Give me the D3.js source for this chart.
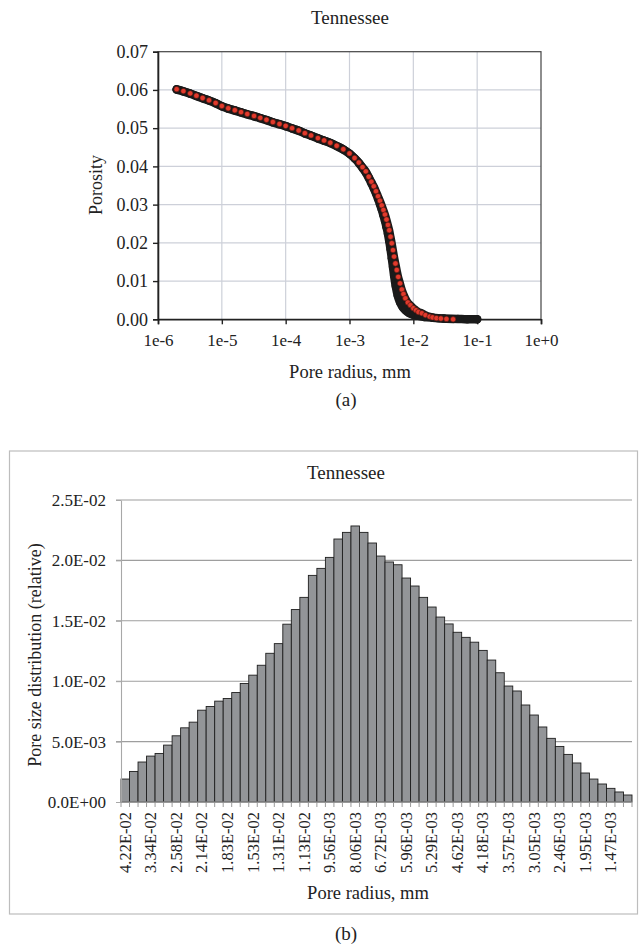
<!DOCTYPE html>
<html>
<head>
<meta charset="utf-8">
<script src="https://cdn.jsdelivr.net/npm/d3@7"></script>
<style>
  html, body { margin: 0; padding: 0; background: #fff; }
  svg { display: block; }
  svg text { font-family: "Times New Roman", "Liberation Serif", "DejaVu Serif", serif !important; fill: #222; }
</style>
</head>
<body>
<svg id="chart" width="639" height="947"></svg>
<script>
// ---------- Data: panel (a) ----------
const chartTitleA = "Tennessee";
const xTickValuesA = [1e-6, 1e-5, 1e-4, 1e-3, 1e-2, 1e-1, 1e0];
const xTickLabelsA = ["1e-6", "1e-5", "1e-4", "1e-3", "1e-2", "1e-1", "1e+0"];
const yTickValuesA = [0, 0.01, 0.02, 0.03, 0.04, 0.05, 0.06, 0.07];

// measured curve (black markers)
const radiusBlack = [1.96e-6, 2.5e-6, 3.2e-6, 4.0e-6, 5.0e-6, 6.3e-6, 8.0e-6, 1.0e-5, 1.26e-5, 1.6e-5,
  2.0e-5, 2.5e-5, 3.2e-5, 4.0e-5, 5.0e-5, 6.3e-5, 8.0e-5, 1.0e-4, 1.26e-4, 1.6e-4,
  2.0e-4, 2.5e-4, 3.2e-4, 4.0e-4, 5.0e-4, 6.3e-4, 8.0e-4, 1.0e-3, 1.2e-3, 1.4e-3,
  1.6e-3, 1.8e-3, 2.0e-3, 2.2e-3, 2.4e-3, 2.6e-3, 2.8e-3, 3.0e-3, 3.2e-3, 3.4e-3,
  3.6e-3, 3.8e-3, 4.0e-3, 4.2e-3, 4.4e-3, 4.6e-3, 4.8e-3, 5.0e-3, 5.3e-3, 5.7e-3,
  6.2e-3, 6.8e-3, 7.5e-3, 8.5e-3, 1.0e-2, 1.2e-2, 1.5e-2, 2.0e-2, 3.0e-2, 5.0e-2,
  7.0e-2, 1.0e-1];
const porosityBlack = [0.0601, 0.0596, 0.0590, 0.0584, 0.0578, 0.0572, 0.0565, 0.0557, 0.0551, 0.0546,
  0.0541, 0.0536, 0.0531, 0.0526, 0.0521, 0.0515, 0.0510, 0.0505, 0.0499, 0.0493,
  0.0486, 0.0480, 0.0473, 0.0467, 0.0461, 0.0453, 0.0444, 0.0433, 0.0421, 0.0409,
  0.0396, 0.0384, 0.0370, 0.0356, 0.0343, 0.0329, 0.0315, 0.0301, 0.0287, 0.0272,
  0.0257, 0.0241, 0.0224, 0.0204, 0.0183, 0.0160, 0.0137, 0.0114, 0.0087, 0.0062,
  0.0044, 0.0032, 0.0024, 0.0017, 0.0012, 0.0009, 0.0006, 0.0004, 0.0002, 0.0001,
  0.0000, 0.0000];

// model curve (red markers)
const radiusRed = [1.96e-6, 2.5e-6, 3.2e-6, 4.0e-6, 5.0e-6, 6.3e-6, 8.0e-6, 1.0e-5, 1.26e-5, 1.6e-5,
  2.0e-5, 2.5e-5, 3.2e-5, 4.0e-5, 5.0e-5, 6.3e-5, 8.0e-5, 1.0e-4, 1.26e-4, 1.6e-4,
  2.0e-4, 2.5e-4, 3.2e-4, 4.0e-4, 5.0e-4, 6.3e-4, 8.0e-4, 1.0e-3, 1.2e-3, 1.4e-3,
  1.6e-3, 1.8e-3, 2.0e-3, 2.2e-3, 2.4e-3, 2.6e-3, 2.8e-3, 3.0e-3, 3.2e-3, 3.4e-3,
  3.6e-3, 3.8e-3, 4.0e-3, 4.2e-3, 4.4e-3, 4.6e-3, 4.8e-3, 5.0e-3, 5.25e-3, 5.5e-3,
  5.8e-3, 6.2e-3, 6.6e-3, 7.0e-3, 7.5e-3, 8.2e-3, 9.0e-3, 1.0e-2, 1.1e-2, 1.2e-2,
  1.36e-2, 1.55e-2, 1.8e-2, 2.0e-2, 2.3e-2, 2.7e-2, 3.3e-2, 4.2e-2];
const porosityRed = [0.0602, 0.0597, 0.0591, 0.0585, 0.0579, 0.0573, 0.0566, 0.0558, 0.0552, 0.0547,
  0.0542, 0.0537, 0.0532, 0.0527, 0.0522, 0.0516, 0.0511, 0.0506, 0.0500, 0.0494,
  0.0487, 0.0481, 0.0474, 0.0468, 0.0462, 0.0454, 0.0445, 0.0434, 0.0422, 0.0410,
  0.0398, 0.0387, 0.0373, 0.0360, 0.0348, 0.0335, 0.0322, 0.0310, 0.0298, 0.0286,
  0.0274, 0.0261, 0.0247, 0.0233, 0.0216, 0.0199, 0.0181, 0.0164, 0.0146, 0.0129,
  0.0111, 0.0094, 0.0078, 0.0066, 0.0055, 0.0044, 0.0037, 0.0029, 0.0024, 0.0019,
  0.0016, 0.0011, 0.0007, 0.0005, 0.0003, 0.0002, 0.0001, 0.0000];

// ---------- Data: panel (b) ----------
const chartTitleB = "Tennessee";
const psdValues = [0.00190, 0.00253, 0.00331, 0.00380, 0.00402, 0.00471, 0.00548, 0.00614, 0.00661, 0.00760,
  0.00791, 0.00835, 0.00857, 0.00906, 0.00981, 0.01050, 0.01132, 0.01231, 0.01311, 0.01472,
  0.01593, 0.01694, 0.01876, 0.01934, 0.02025, 0.02177, 0.02232, 0.02285, 0.02232, 0.02144,
  0.02036, 0.01987, 0.01964, 0.01854, 0.01788, 0.01694, 0.01614, 0.01531, 0.01474, 0.01405,
  0.01363, 0.01323, 0.01255, 0.01175, 0.01070, 0.00960, 0.00919, 0.00803, 0.00720, 0.00621,
  0.00527, 0.00460, 0.00394, 0.00323, 0.00240, 0.00190, 0.00149, 0.00113, 0.00083, 0.00058];
const xTickLabelsB = ["4.22E-02", "3.34E-02", "2.58E-02", "2.14E-02", "1.83E-02", "1.53E-02", "1.31E-02",
  "1.13E-02", "9.56E-03", "8.06E-03", "6.72E-03", "5.96E-03", "5.29E-03", "4.62E-03", "4.18E-03",
  "3.57E-03", "3.05E-03", "2.46E-03", "1.95E-03", "1.47E-03"];
const yTickValuesB = [0, 0.005, 0.01, 0.015, 0.02, 0.025];
const yTickLabelsB = ["0.0E+00", "5.0E-03", "1.0E-02", "1.5E-02", "2.0E-02", "2.5E-02"];

const svg = d3.select("#chart");
const SERIF = "'Times New Roman', 'Liberation Serif', serif";

// ================= Panel (a) =================
(function () {
  const L = 158, R = 541, T = 51.7, B = 319.3;
  const x = d3.scaleLog().domain([1e-6, 1]).range([L, R]);
  const y = d3.scaleLinear().domain([0, 0.07]).range([B, T]);
  const g = svg.append("g");

  // grid
  g.append("g").selectAll("line.v").data(xTickValuesA.slice(1, -1)).join("line")
    .attr("x1", d => x(d)).attr("x2", d => x(d)).attr("y1", T).attr("y2", B)
    .attr("stroke", "#cdd0d9").attr("stroke-width", 1.2);
  g.append("g").selectAll("line.h").data(yTickValuesA.slice(1, -1)).join("line")
    .attr("x1", L).attr("x2", R).attr("y1", d => y(d)).attr("y2", d => y(d))
    .attr("stroke", "#cdd0d9").attr("stroke-width", 1.2);

  // frame
  g.append("rect").attr("x", L).attr("y", T).attr("width", R - L).attr("height", B - T)
    .attr("fill", "none").attr("stroke", "#444").attr("stroke-width", 1.2);

  // axes
  const yAxis = d3.axisLeft(y).tickValues(yTickValuesA).tickFormat(d3.format(".2f")).tickSizeOuter(0).tickSize(5).tickPadding(5);
  const ya = g.append("g").attr("transform", `translate(${L},0)`).call(yAxis);
  const xAxis = d3.axisBottom(x).tickValues(xTickValuesA).tickFormat((d, i) => xTickLabelsA[i]).tickSizeOuter(0).tickSize(5).tickPadding(10);
  const xa = g.append("g").attr("transform", `translate(0,${B})`).call(xAxis);
  [ya, xa].forEach(a => {
    a.attr("font-family", SERIF);
    a.select(".domain").attr("stroke", "#222").attr("stroke-width", 1.6);
    a.selectAll(".tick line").attr("stroke", "#222").attr("stroke-width", 1.4);
    a.selectAll("text").attr("fill", "#333");
  });
  ya.selectAll("text").style("font-size", "18px");
  xa.selectAll("text").style("font-size", "17px");

  // black curve
  const blackPts = radiusBlack.map((r, i) => [r, porosityBlack[i]]);
  const redPts = radiusRed.map((r, i) => [r, porosityRed[i]]);
  const line = d3.line().x(d => x(d[0])).y(d => y(d[1])).curve(d3.curveMonotoneX);
  g.append("path").datum(blackPts).attr("d", line).attr("fill", "none")
    .attr("stroke", "#1a1a1a").attr("stroke-width", 8.5).attr("stroke-linecap", "round");
  g.append("path").datum(redPts).attr("d", line).attr("fill", "none")
    .attr("stroke", "#1a1a1a").attr("stroke-width", 8).attr("stroke-linecap", "round");
  g.append("g").selectAll("circle").data(blackPts).join("circle")
    .attr("cx", d => x(d[0])).attr("cy", d => y(d[1])).attr("r", 4.2).attr("fill", "#1a1a1a");
  // red markers
  g.append("g").selectAll("circle").data(redPts).join("circle")
    .attr("cx", d => x(d[0])).attr("cy", d => y(d[1])).attr("r", 2.7)
    .attr("fill", "#e23a2c").attr("stroke", "#4a1510").attr("stroke-width", 0.6);

  // texts
  svg.append("text").attr("x", 350).attr("y", 24).attr("text-anchor", "middle")
    .style("font-size", "19px").text(chartTitleA);
  svg.append("text").attr("transform", "translate(102,185) rotate(-90)").attr("text-anchor", "middle")
    .style("font-size", "18px").text("Porosity");
  svg.append("text").attr("x", 350).attr("y", 378).attr("text-anchor", "middle")
    .style("font-size", "18.5px").text("Pore radius, mm");
  svg.append("text").attr("x", 346).attr("y", 406).attr("text-anchor", "middle")
    .style("font-size", "19px").text("(a)");
})();

// ================= Panel (b) =================
(function () {
  // outer frame
  svg.append("rect").attr("x", 9.5).attr("y", 451).attr("width", 628).attr("height", 463)
    .attr("fill", "none").attr("stroke", "#bdbdbd").attr("stroke-width", 1.2);

  const L = 121, R = 632, T = 500, B = 802;
  const x = d3.scaleBand().domain(d3.range(psdValues.length)).range([L, R]).padding(0);
  const y = d3.scaleLinear().domain([0, 0.025]).range([B, T]);
  const g = svg.append("g");

  // gridlines (also serve as left ticks)
  g.append("g").selectAll("line").data(yTickValuesB.slice(1)).join("line")
    .attr("x1", L - 5).attr("x2", R).attr("y1", d => y(d)).attr("y2", d => y(d))
    .attr("stroke", "#9e9e9e").attr("stroke-width", 1.1);

  // bars
  g.append("g").selectAll("rect").data(psdValues).join("rect")
    .attr("x", (d, i) => x(i)).attr("width", x.bandwidth())
    .attr("y", d => y(d)).attr("height", d => B - y(d))
    .attr("fill", "#939598").attr("stroke", "#1e1e1e").attr("stroke-width", 0.9);

  // y axis
  const yAxis = d3.axisLeft(y).tickValues(yTickValuesB).tickFormat((d, i) => yTickLabelsB[i])
    .tickSize(5).tickSizeOuter(0).tickPadding(10);
  const ya = g.append("g").attr("transform", `translate(${L},0)`).attr("font-family", SERIF).call(yAxis);
  ya.attr("font-family", SERIF);
  ya.select(".domain").attr("stroke", "#a8a8a8").attr("stroke-width", 1.1);
  ya.selectAll(".tick line").attr("stroke", "#a8a8a8");
  ya.selectAll("text").style("font-size", "17px").attr("fill", "#333");

  // x axis baseline and bin ticks
  g.append("line").attr("x1", L).attr("x2", R).attr("y1", B).attr("y2", B)
    .attr("stroke", "#9a9a9a").attr("stroke-width", 1.1);
  g.append("g").selectAll("line").data(d3.range(psdValues.length + 1)).join("line")
    .attr("x1", i => L + i * x.bandwidth()).attr("x2", i => L + i * x.bandwidth())
    .attr("y1", B).attr("y2", B + 5).attr("stroke", "#9a9a9a").attr("stroke-width", 1);

  // rotated x labels every 3 bins
  g.append("g").selectAll("text").data(xTickLabelsB).join("text")
    .attr("transform", (d, i) => `translate(${x(i * 3) + x.bandwidth() / 2 + 5.5},${B + 10}) rotate(-90)`)
    .attr("text-anchor", "end")
    .style("font-size", "16.5px").attr("fill", "#333")
    .text(d => d);

  // texts
  svg.append("text").attr("x", 346).attr("y", 479).attr("text-anchor", "middle")
    .style("font-size", "19px").text(chartTitleB);
  svg.append("text").attr("transform", "translate(41,655) rotate(-90)").attr("text-anchor", "middle")
    .style("font-size", "18px").text("Pore size distribution (relative)");
  svg.append("text").attr("x", 368).attr("y", 899).attr("text-anchor", "middle")
    .style("font-size", "18.5px").text("Pore radius, mm");
  svg.append("text").attr("x", 346).attr("y", 940).attr("text-anchor", "middle")
    .style("font-size", "19px").text("(b)");
})();
</script>
</body>
</html>
